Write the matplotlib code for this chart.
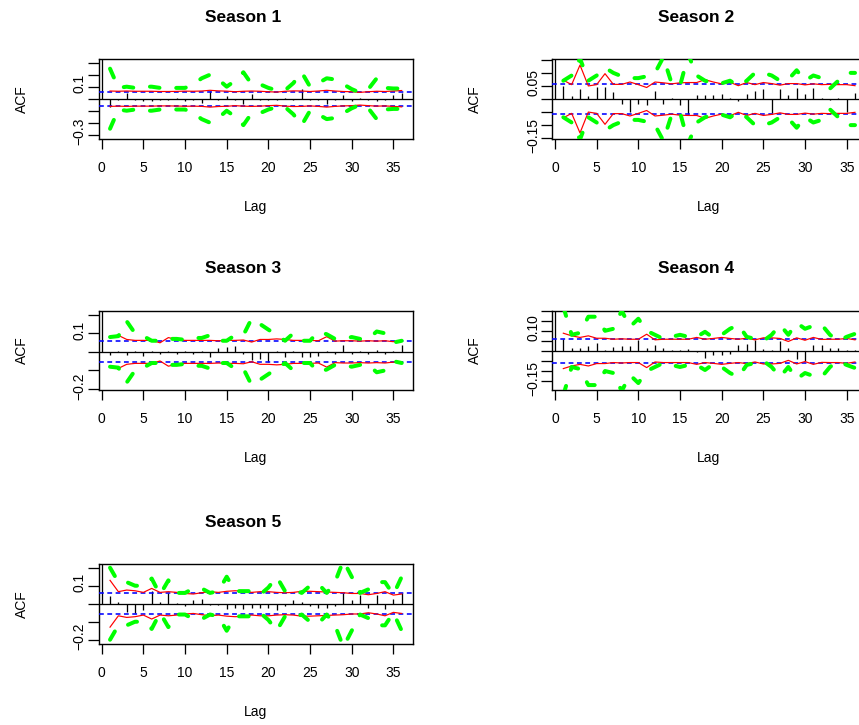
import matplotlib
matplotlib.use("Agg")
import matplotlib.pyplot as plt
import numpy as np

W, H, DPI = 859, 725, 100
PT = 72.0 / DPI  # points per pixel
plt.rcParams['font.family'] = ['Liberation Sans', 'DejaVu Sans']

lags = np.arange(0, 37)

titles = ["Season 1", "Season 2", "Season 3", "Season 4", "Season 5"]

acf1 = [1.0, -0.07, -0.01, 0.05, -0.01, -0.015, -0.015, -0.01, -0.01, 0.005, -0.015,
        -0.01, -0.035, 0.06, -0.01, 0.02, -0.01, -0.04, 0.035, -0.01, -0.01,
        -0.01, 0.005, -0.01, 0.08, -0.01, -0.01, -0.047, -0.01, 0.03, -0.015,
        0.005, -0.01, -0.015, -0.01, 0.03, 0.045]
red1 = [0.064, 0.062, 0.064, 0.062, 0.062, 0.062, 0.06, 0.06, 0.061, 0.063,
        0.062, 0.064, 0.07, 0.065, 0.063, 0.058, 0.062, 0.064, 0.062, 0.058,
        0.055, 0.062, 0.065, 0.064, 0.06, 0.064, 0.07, 0.064, 0.06, 0.058,
        0.053, 0.058, 0.062, 0.06, 0.064, 0.068]
green1 = [0.25, 0.09, 0.10, 0.09, 0.10, 0.10, 0.09, 0.085, 0.09, 0.09,
          0.12, 0.17, 0.20, 0.16, 0.10, 0.15, 0.22, 0.12, 0.12, 0.09,
          0.07, 0.07, 0.13, 0.22, 0.10, 0.13, 0.17, 0.16, 0.12, 0.08,
          0.05, 0.08, 0.17, 0.09, 0.085, 0.085]
ci1 = 0.058

acf2 = [1.0, 0.05, 0.012, 0.037, 0.01, 0.045, 0.046, 0.027, -0.018, -0.05, -0.02,
        -0.024, 0.03, -0.018, 0.005, -0.024, -0.056, 0.017, 0.015, 0.017, 0.02,
        0.003, -0.008, 0.018, 0.03, 0.04, -0.053, 0.04, 0.017, 0.044, 0.02,
        0.044, 0.005, -0.005, 0.005, -0.05, 0.024]
red2 = [0.072, 0.055, 0.13, 0.05, 0.055, 0.097, 0.056, 0.056, 0.065, 0.055,
        0.044, 0.065, 0.062, 0.058, 0.062, 0.063, 0.063, 0.074, 0.065, 0.058,
        0.064, 0.051, 0.063, 0.055, 0.063, 0.059, 0.053, 0.059, 0.059, 0.054,
        0.058, 0.055, 0.056, 0.055, 0.055, 0.051]
green2 = [0.07, 0.09, 0.155, 0.07, 0.09, 0.12, 0.1, 0.087, 0.08, 0.08,
          0.087, 0.1, 0.16, 0.06, 0.05, 0.17, 0.09, 0.07, 0.06, 0.06,
          0.07, 0.05, 0.07, 0.1, 0.1, 0.09, 0.07, 0.075, 0.11, 0.07,
          0.09, 0.08, 0.04, 0.07, 0.1, 0.1]
ci2 = 0.056

acf3 = [1.0, -0.015, 0.005, -0.015, 0.005, -0.02, 0.005, -0.01, 0.005, -0.01, 0.005,
        -0.01, 0.005, -0.03, 0.02, 0.025, 0.03, -0.01, -0.042, -0.04, -0.055,
        0.005, -0.025, 0.005, -0.025, -0.028, -0.02, 0.005, -0.01, 0.036, -0.01,
        0.005, -0.01, 0.01, -0.01, 0.005, 0.035]
red3 = [0.082, 0.089, 0.067, 0.062, 0.062, 0.062, 0.049, 0.077, 0.067, 0.062,
        0.062, 0.062, 0.062, 0.06, 0.062, 0.062, 0.064, 0.053, 0.067, 0.067,
        0.07, 0.067, 0.062, 0.062, 0.062, 0.06, 0.082, 0.058, 0.06, 0.06,
        0.058, 0.06, 0.058, 0.06, 0.055, 0.06]
green3 = [0.08, 0.085, 0.165, 0.1, 0.085, 0.06, 0.06, 0.07, 0.07, 0.065,
          0.075, 0.075, 0.09, 0.06, 0.06, 0.09, 0.09, 0.18, 0.15, 0.12,
          0.09, 0.06, 0.1, 0.06, 0.06, 0.11, 0.095, 0.07, 0.07, 0.08,
          0.07, 0.07, 0.11, 0.1, 0.05, 0.06]
ci3 = 0.057

acf4 = [1.0, 0.058, 0.012, 0.015, 0.025, 0.037, 0.005, 0.02, 0.025, 0.025, 0.053,
        0.015, 0.028, 0.012, 0.005, 0.005, 0.008, -0.005, -0.037, -0.02, -0.02,
        -0.016, 0.03, 0.033, 0.053, 0.008, 0.005, 0.05, 0.012, -0.038, -0.05,
        0.028, 0.03, 0.015, 0.012, 0.005, 0.005]
red4 = [0.088, 0.075, 0.067, 0.075, 0.063, 0.063, 0.058, 0.06, 0.058, 0.058,
        0.083, 0.055, 0.058, 0.058, 0.058, 0.058, 0.067, 0.058, 0.062, 0.067,
        0.062, 0.058, 0.063, 0.055, 0.065, 0.065, 0.062, 0.047, 0.065, 0.053,
        0.067, 0.057, 0.058, 0.058, 0.062, 0.055]
green4 = [0.22, 0.08, 0.09, 0.17, 0.17, 0.1, 0.11, 0.2, 0.12, 0.16,
          0.1, 0.08, 0.06, 0.07, 0.08, 0.07, 0.07, 0.095, 0.065, 0.08,
          0.11, 0.13, 0.07, 0.06, 0.05, 0.08, 0.13, 0.08, 0.14, 0.11,
          0.125, 0.13, 0.08, 0.05, 0.07, 0.085]
ci4 = 0.06

acf5 = [1.0, 0.043, 0.01, -0.045, -0.054, -0.035, 0.072, 0.01, 0.057, 0.003, -0.01,
        0.02, 0.024, -0.005, -0.005, -0.03, -0.025, -0.03, -0.025, -0.025, -0.022,
        -0.035, -0.015, 0.02, 0.01, -0.015, -0.025, -0.025, -0.01, 0.061, 0.02,
        0.048, -0.025, 0.048, -0.03, 0.024, 0.057]
red5 = [0.13, 0.067, 0.076, 0.072, 0.063, 0.085, 0.063, 0.067, 0.063, 0.057,
        0.054, 0.061, 0.067, 0.063, 0.069, 0.072, 0.07, 0.063, 0.067, 0.067,
        0.063, 0.061, 0.063, 0.069, 0.069, 0.067, 0.065, 0.063, 0.061, 0.057,
        0.057, 0.05, 0.057, 0.067, 0.048, 0.054]
green5 = [0.2, 0.12, 0.12, 0.1, 0.1, 0.14, 0.05, 0.13, 0.06, 0.06,
          0.085, 0.085, 0.06, 0.07, 0.15, 0.07, 0.07, 0.07, 0.05, 0.09,
          0.15, 0.07, 0.08, 0.06, 0.1, 0.11, 0.06, 0.12, 0.24, 0.15,
          0.06, 0.08, 0.12, 0.12, 0.05, 0.15]
ci5 = 0.057

xticks = [0, 5, 10, 15, 20, 25, 30, 35]

ytick_vals = [
    [-0.3, -0.2, -0.1, 0.0, 0.1, 0.2, 0.3],
    [-0.15, -0.10, -0.05, 0.0, 0.05, 0.10, 0.15],
    [-0.2, -0.1, 0.0, 0.1, 0.2],
    [-0.15, -0.10, -0.05, 0.0, 0.05, 0.10, 0.15, 0.20],
    [-0.2, -0.1, 0.0, 0.1, 0.2],
]
ytick_text = [
    {0.1: "0.1", -0.3: "\u22120.3"},
    {0.05: "0.05", -0.15: "\u22120.15"},
    {0.1: "0.1", -0.2: "\u22120.2"},
    {0.10: "0.10", -0.15: "\u22120.15"},
    {0.1: "0.1", -0.2: "\u22120.2"},
]
ylims = [(-0.333, 0.328), (-0.152, 0.152), (-0.206, 0.222), (-0.195, 0.2), (-0.222, 0.219)]

acfs = [acf1, acf2, acf3, acf4, acf5]
reds = [red1, red2, red3, red4, red5]
greens = [green1, green2, green3, green4, green5]
cis = [ci1, ci2, ci3, ci4, ci5]

# box positions in pixels (left, top)
boxes = [(98.7, 59.3), (552.0, 59.3), (98.7, 310.7), (552.0, 310.7), (98.7, 564.3)]
BW, BH = 314.0, 79.4

fig = plt.figure(figsize=(W / DPI, H / DPI), dpi=DPI)

def ftext(x, y, s, **kw):
    fig.text(x / W, 1 - y / H, s, ha='center', va='center', **kw)

for i in range(5):
    left, top = boxes[i]
    ax = fig.add_axes([left / W, 1 - (top + BH) / H, BW / W, BH / H])
    ax.set_xlim(-0.36, 37.32)
    ax.set_ylim(*ylims[i])
    ax.vlines(lags, 0, acfs[i], color='black', lw=1.3 * PT, zorder=2)
    ax.axhline(0, color='black', lw=1.3 * PT, zorder=2)
    for s in (1, -1):
        ax.axhline(s * cis[i], color='#0000FF', lw=1.6 * PT, linestyle=(0, (3.0, 2.2)), zorder=3)
        ax.plot(lags[1:], s * np.array(reds[i]), color='#FF0000', lw=1.2 * PT, zorder=4)
        ax.plot(lags[1:], s * np.array(greens[i]), color='#00FF00', lw=4.0 * PT,
                linestyle=(0, (2.4, 4.2)), dash_capstyle='round', zorder=5)
    for sp in ax.spines.values():
        sp.set_linewidth(1.4 * PT)
    ax.set_xticks(xticks)
    ax.set_xticklabels([str(t) for t in xticks], fontsize=10)
    ax.tick_params(axis='x', direction='out', length=9.5 * PT, width=1.3 * PT, pad=9)
    ax.set_yticks(ytick_vals[i])
    ax.set_yticklabels([''] * len(ytick_vals[i]))
    ax.tick_params(axis='y', direction='out', length=11 * PT, width=1.3 * PT)
    yr = ylims[i][1] - ylims[i][0]
    for v, s in ytick_text[i].items():
        ax.text(-19.0 / BW, v + 3.0 / BH * yr, s, transform=ax.get_yaxis_transform(),
                rotation=90, ha='center', va='center', fontsize=10)
    cx = left + BW / 2
    ftext(cx - 13, top - 42, titles[i], fontsize=12.5, fontweight='bold')
    ftext(cx, top + BH + 68, "Lag", fontsize=10)
    ftext(left - 77, top + BH / 2, "ACF", fontsize=10, rotation=90)

fig.savefig("out.png", dpi=DPI)
